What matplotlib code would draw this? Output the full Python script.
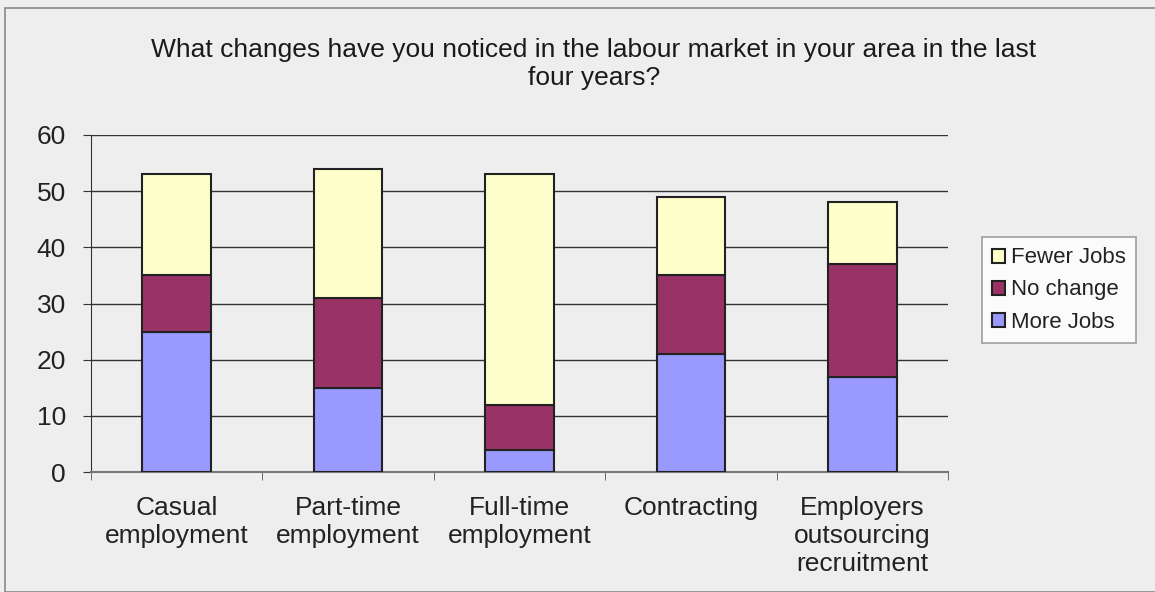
import matplotlib
matplotlib.use("Agg")
import matplotlib.pyplot as plt
from matplotlib.patches import Rectangle
import numpy as np

categories = ["Casual\nemployment", "Part-time\nemployment", "Full-time\nemployment",
              "Contracting", "Employers\noutsourcing\nrecruitment"]
more_jobs = [25, 15, 4, 21, 17]
no_change = [10, 16, 8, 14, 20]
fewer_jobs = [18, 23, 41, 14, 11]
yticks = [0, 10, 20, 30, 40, 50, 60]
title = "What changes have you noticed in the labour market in your area in the last\nfour years?"

plt.rcParams['font.family'] = ['Liberation Sans', 'DejaVu Sans']
bg = "#EEEEEE"
fig = plt.figure(figsize=(11.55, 5.92), dpi=100, facecolor=bg)
fig.patches.append(Rectangle((5/1155, 0), 1.1, (592-8)/592, transform=fig.transFigure,
                             fill=False, edgecolor="#888888", lw=1.2))
ax = fig.add_axes([91/1155, 1-472/592, (948-91)/1155, (472-135)/592])
ax.set_facecolor(bg)

x = np.arange(len(categories))
w = 0.4
ec = "#222222"
b1 = ax.bar(x, more_jobs, w, color="#9999FF", edgecolor=ec, lw=1.5, zorder=3, label="More Jobs")
b2 = ax.bar(x, no_change, w, bottom=more_jobs, color="#993366", edgecolor=ec, lw=1.5, zorder=3, label="No change")
bottom2 = [a + b for a, b in zip(more_jobs, no_change)]
b3 = ax.bar(x, fewer_jobs, w, bottom=bottom2, color="#FFFFCC", edgecolor=ec, lw=1.5, zorder=3, label="Fewer Jobs")

ax.set_xlim(-0.5, len(categories) - 0.5)
ax.set_ylim(0, 60)
ax.set_yticks(yticks)
ax.yaxis.grid(True, color="#333333", lw=1, zorder=0)
ax.tick_params(axis='y', labelsize=19, length=6, direction='out', color="#333333", pad=12, labelcolor="#222222")
ax.set_xticks(x)
ax.set_xticklabels(categories, fontsize=19, color="#222222", linespacing=1.22)
ax.tick_params(axis='x', length=0, pad=17)
ax.set_xticks(np.arange(-0.5, len(categories), 1), minor=True)
ax.tick_params(axis='x', which='minor', length=6, direction='out', color="#555555")
for s in ["top", "right"]:
    ax.spines[s].set_visible(False)
ax.spines["left"].set_color("#333333")
ax.spines["bottom"].set_color("#777777")
ax.spines["bottom"].set_linewidth(1.5)

fig.text(594/1155, 1 - 64/592, title, ha="center", va="center", fontsize=19, color="#1a1a1a",
         linespacing=1.22, fontweight="normal")

leg = ax.legend(handles=[b3, b2, b1], loc="center left", bbox_to_anchor=(982/1155, 1-290/592),
                bbox_transform=fig.transFigure, fontsize=16, frameon=True, fancybox=False,
                handlelength=0.6, handleheight=0.6, handletextpad=0.25, borderpad=0.45,
                labelspacing=0.5, borderaxespad=0)
leg.get_frame().set_edgecolor("#888888")
leg.get_frame().set_facecolor("white")
leg.get_frame().set_linewidth(1.2)
for t in leg.get_texts():
    t.set_color("#222222")

fig.savefig("out.png", dpi=100, facecolor=bg)
